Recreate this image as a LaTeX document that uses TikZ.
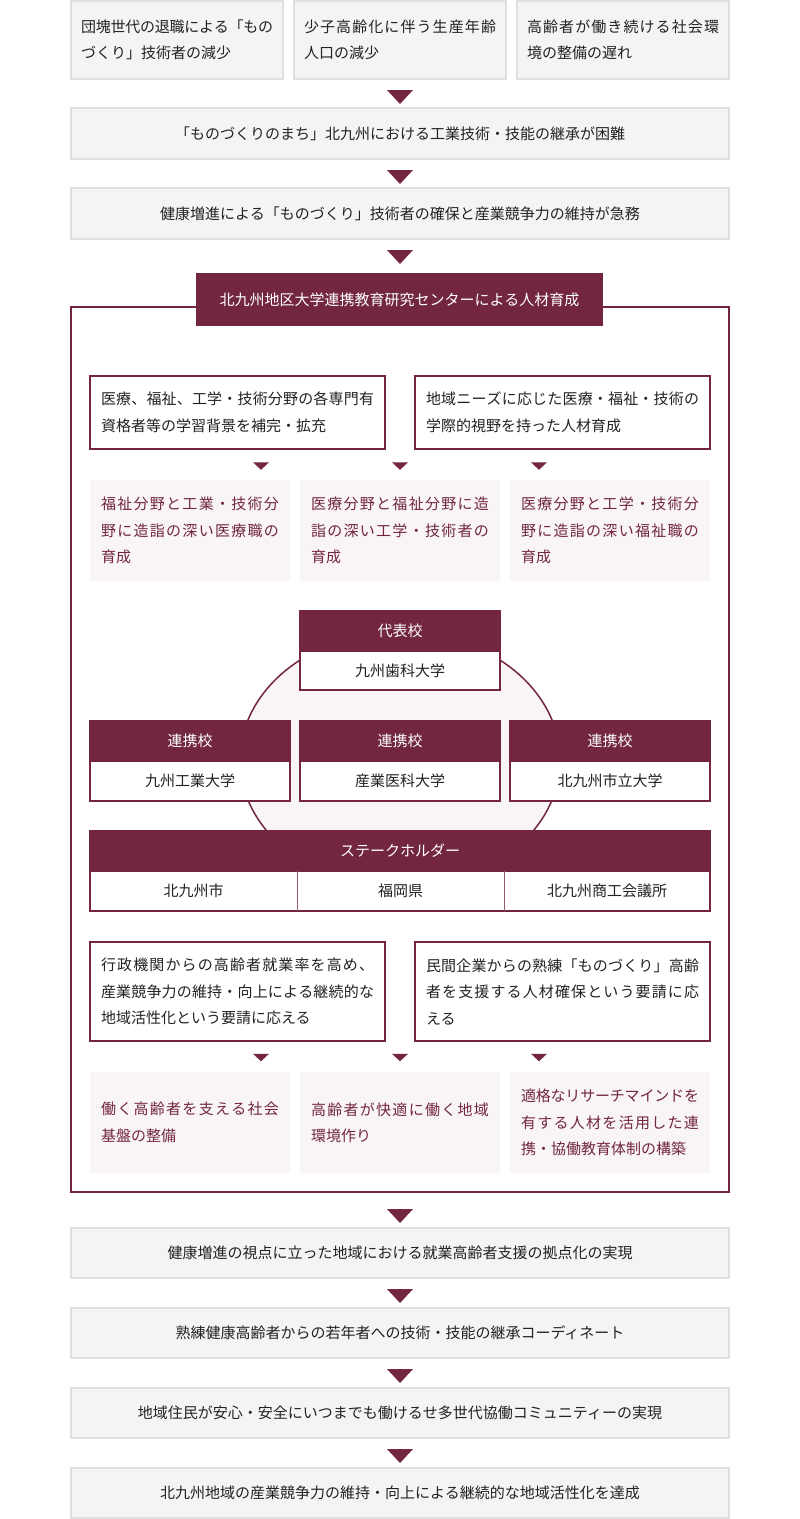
\documentclass[tikz,border=0pt]{standalone}
\usepackage{fontspec}
\setmainfont{Noto Sans CJK JP}
\usetikzlibrary{calc,shapes.geometric}
\definecolor{brand}{RGB}{114,39,62}
\definecolor{pinkbg}{RGB}{248,244,248}
\definecolor{graybg}{RGB}{244,244,244}
\definecolor{grayline}{RGB}{224,224,224}
\definecolor{textdark}{RGB}{34,34,34}
\newcommand\mfs{\fontsize{15pt}{26.5pt}\selectfont}
\def\jspA#1{#1\jspB}
\def\jspB#1{\ifx\relax#1\else\hskip 0pt plus 1fil minus 0.4pt#1\expandafter\jspB\fi}
\newcommand\jl[1]{\hbox to \hsize{\jspA#1\relax}}
\newcommand\lastl[1]{\hbox{#1}}
\newcommand\blk[1]{\vbox{#1}}
\newcommand\tri[3]{\fill[brand] (#1) ++(-#2,0) -- ++(2*#2,0) -- ++(-#2,#3) -- cycle;}
\tikzset{
  graybox/.style={draw=grayline, line width=2pt, fill=graybg, inner sep=0pt, text=textdark, font=\mfs},
  whitebox/.style={draw=brand, line width=2pt, fill=white, inner sep=0pt, text=textdark, font=\mfs},
  pinkbox/.style={fill=pinkbg, inner sep=0pt, text=brand, font=\mfs},
  headbox/.style={draw=brand, line width=2pt, fill=brand, inner sep=0pt, text=white, font=\mfs},
  plaintext/.style={inner sep=0pt, text=textdark, font=\mfs},
}
\begin{document}
\begin{tikzpicture}[x=1pt,y=-1pt]
\fill[white] (0,0) rectangle (800,1519);
\useasboundingbox (0,0) rectangle (800,1519);
% top causes
\node[graybox, minimum width=212pt, minimum height=78pt, text width=192pt, align=left] (t1) at (177,40) {\blk{\jl{団塊世代の退職による「もの}\lastl{づくり」技術者の減少}}};
\node[graybox, minimum width=212pt, minimum height=78pt, text width=192pt, align=left] (t2) at (400,40) {\blk{\jl{少子高齢化に伴う生産年齢}\lastl{人口の減少}}};
\node[graybox, minimum width=212pt, minimum height=78pt, text width=192pt, align=left] (t3) at (623,40) {\blk{\jl{高齢者が働き続ける社会環}\lastl{境の整備の遅れ}}};
\tri{$(t2.south)+(0,10)$}{13}{14}
\node[graybox, minimum width=658pt, minimum height=51pt] (b1) at (400,133.5) {「ものづくりのまち」北九州における工業技術・技能の継承が困難};
\tri{$(b1.south)+(0,10)$}{13}{14}
\node[graybox, minimum width=658pt, minimum height=51pt] (b2) at (400,213.5) {健康増進による「ものづくり」技術者の確保と産業競争力の維持が急務};
\tri{$(b2.south)+(0,10)$}{13}{14}
% frame
\node[draw=brand, line width=2pt, minimum width=658pt, minimum height=885pt, inner sep=0pt] (frame) at (400,749.5) {};
\node[headbox, minimum width=405pt, minimum height=51pt] (title) at (399.5,299.5) {北九州地区大学連携教育研究センターによる人材育成};
% upper boxes
\node[whitebox, minimum width=295pt, minimum height=73pt, text width=273pt, align=left] (u1) at (237.5,412.5) {\blk{\jl{医療、福祉、工学・技術分野の各専門有}\lastl{資格者等の学習背景を補完・拡充}}};
\node[whitebox, minimum width=295pt, minimum height=73pt, text width=273pt, align=left] (u2) at (562.5,412.5) {\blk{\jl{地域ニーズに応じた医療・福祉・技術の}\lastl{学際的視野を持った人材育成}}};
\node[pinkbox, minimum width=200pt, minimum height=101pt, text width=178pt, align=left] (p1) at (190,530.5) {\blk{\jl{福祉分野と工業・技術分}\jl{野に造詣の深い医療職の}\lastl{育成}}};
\node[pinkbox, minimum width=200pt, minimum height=101pt, text width=178pt, align=left] (p2) at (400,530.5) {\blk{\jl{医療分野と福祉分野に造}\jl{詣の深い工学・技術者の}\lastl{育成}}};
\node[pinkbox, minimum width=200pt, minimum height=101pt, text width=178pt, align=left] (p3) at (610,530.5) {\blk{\jl{医療分野と工学・技術分}\jl{野に造詣の深い福祉職の}\lastl{育成}}};
\tri{$(p2.north)+(-139,-17.5)$}{8}{7.5}
\tri{$(p2.north)+(0,-17.5)$}{8}{7.5}
\tri{$(p2.north)+(139,-17.5)$}{8}{7.5}
% ellipse
\node[ellipse, draw=brand, line width=1.5pt, fill=pinkbg, minimum width=320pt, minimum height=256pt, inner sep=0pt] (ring) at (400,760) {};
% schools
\node[headbox, minimum width=200pt, minimum height=40pt] (h0) at (400,631) {代表校};
\node[whitebox, minimum width=200pt, minimum height=39pt] (s0) at (400,670.5) {九州歯科大学};
\node[headbox, minimum width=200pt, minimum height=40pt] (h1) at (190,741) {連携校};
\node[whitebox, minimum width=200pt, minimum height=40pt] (s1) at (190,781) {九州工業大学};
\node[headbox, minimum width=200pt, minimum height=40pt] (h2) at (400,741) {連携校};
\node[whitebox, minimum width=200pt, minimum height=40pt] (s2) at (400,781) {産業医科大学};
\node[headbox, minimum width=200pt, minimum height=40pt] (h3) at (610,741) {連携校};
\node[whitebox, minimum width=200pt, minimum height=40pt] (s3) at (610,781) {北九州市立大学};
% stakeholders
\node[headbox, minimum width=620pt, minimum height=40pt] (hs) at (400,851) {ステークホルダー};
\node[whitebox, minimum width=620pt, minimum height=40pt] (sb) at (400,891) {};
\node[plaintext, minimum width=207pt, minimum height=40pt] (c1) at (193.5,891) {北九州市};
\node[plaintext, minimum width=207pt, minimum height=40pt] (c2) at (400.5,891) {福岡県};
\node[plaintext, minimum width=206pt, minimum height=40pt] (c3) at (607,891) {北九州商工会議所};
\draw[brand!75, line width=1.3pt] (c1.north east) -- (c1.south east);
\draw[brand!75, line width=1.3pt] (c2.north east) -- (c2.south east);
% lower boxes
\node[whitebox, minimum width=295pt, minimum height=99pt, text width=273pt, align=left] (l1) at (237.5,991.5) {\blk{\jl{行政機関からの高齢者就業率を高め、}\jl{産業競争力の維持・向上による継続的な}\lastl{地域活性化という要請に応える}}};
\node[whitebox, minimum width=295pt, minimum height=99pt, text width=273pt, align=left] (l2) at (562.5,991.5) {\blk{\jl{民間企業からの熟練「ものづくり」高齢}\jl{者を支援する人材確保という要請に応}\lastl{える}}};
\node[pinkbox, minimum width=200pt, minimum height=101pt, text width=178pt, align=left] (q1) at (190,1122.5) {\blk{\jl{働く高齢者を支える社会}\lastl{基盤の整備}}};
\node[pinkbox, minimum width=200pt, minimum height=101pt, text width=178pt, align=left] (q2) at (400,1122.5) {\blk{\jl{高齢者が快適に働く地域}\lastl{環境作り}}};
\node[pinkbox, minimum width=200pt, minimum height=101pt, text width=178pt, align=left] (q3) at (610,1122.5) {\blk{\jl{適格なリサーチマインドを}\jl{有する人材を活用した連}\lastl{携・協働教育体制の構築}}};
\tri{$(q2.north)+(-139,-18)$}{8}{7.5}
\tri{$(q2.north)+(0,-18)$}{8}{7.5}
\tri{$(q2.north)+(139,-18)$}{8}{7.5}
% outcomes
\tri{$(frame.south)+(0,16)$}{13}{14}
\node[graybox, minimum width=658pt, minimum height=50pt] (e1) at (400,1253) {健康増進の視点に立った地域における就業高齢者支援の拠点化の実現};
\tri{$(e1.south)+(0,10)$}{13}{14}
\node[graybox, minimum width=658pt, minimum height=50pt] (e2) at (400,1333) {熟練健康高齢者からの若年者への技術・技能の継承コーディネート};
\tri{$(e2.south)+(0,10)$}{13}{14}
\node[graybox, minimum width=658pt, minimum height=50pt] (e3) at (400,1413) {地域住民が安心・安全にいつまでも働けるせ多世代協働コミュニティーの実現};
\tri{$(e3.south)+(0,10)$}{13}{14}
\node[graybox, minimum width=658pt, minimum height=50pt] (e4) at (400,1493) {北九州地域の産業競争力の維持・向上による継続的な地域活性化を達成};
\end{tikzpicture}
\end{document}
